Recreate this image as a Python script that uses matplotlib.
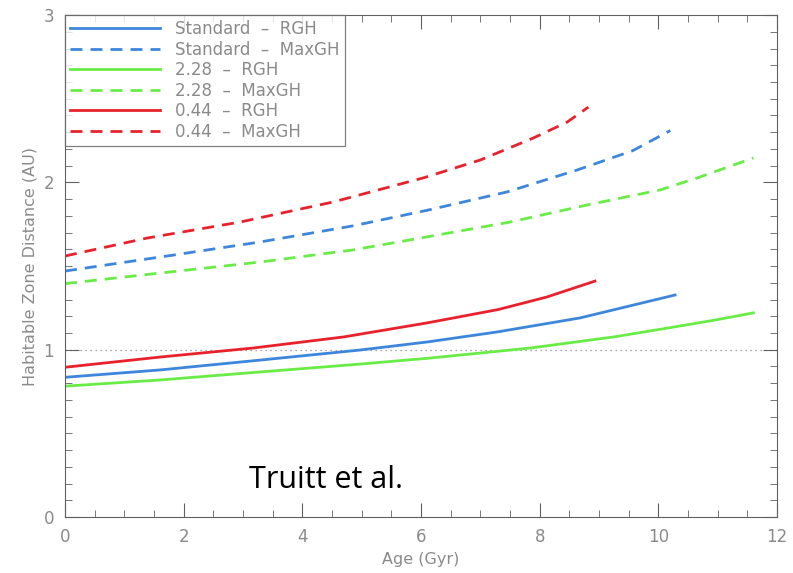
import numpy as np
import matplotlib.pyplot as plt
from matplotlib.ticker import MultipleLocator

# values (Age in Gyr, distance in AU)
age_044_r = [0.0, 1.6, 3.17, 4.69, 6.1, 7.3, 8.12, 8.93]
rgh_044 = [0.895, 0.956, 1.01, 1.076, 1.16, 1.24, 1.315, 1.41]
age_044_m = [0.0, 1.38, 2.95, 4.52, 6.05, 7.0, 7.89, 8.46, 8.82]
max_044 = [1.56, 1.667, 1.763, 1.883, 2.028, 2.134, 2.265, 2.36, 2.45]

age_std_r = [0.0, 1.6, 3.29, 4.97, 6.1, 7.28, 8.68, 9.52, 10.28]
rgh_std = [0.835, 0.879, 0.938, 0.998, 1.046, 1.106, 1.19, 1.262, 1.327]
age_std_m = [0.0, 1.72, 3.29, 4.85, 6.1, 7.45, 8.63, 9.57, 10.2]
max_std = [1.47, 1.56, 1.644, 1.74, 1.833, 1.943, 2.074, 2.19, 2.31]

age_228_r = [0.0, 1.6, 3.29, 4.97, 6.15, 7.84, 9.24, 10.08, 10.92, 11.6]
rgh_228 = [0.782, 0.819, 0.867, 0.914, 0.95, 1.01, 1.076, 1.125, 1.175, 1.22]
age_228_m = [0.0, 1.6, 3.29, 4.85, 6.0, 7.5, 8.8, 10.03, 10.65, 11.6]
max_228 = [1.395, 1.458, 1.524, 1.596, 1.668, 1.763, 1.865, 1.955, 2.026, 2.146]

blue = "#3c86dc"
green = "#6aec46"
red = "#e8222c"
grey = "#606060"
label_grey = "#8a8a8a"
dash = (0, (4.3, 2.9))

fig = plt.figure(figsize=(7.93, 5.73), dpi=100)
ax = fig.add_axes([0.082, 0.0977, 0.898, 0.876])

ax.axhline(1.0, color="#888888", linestyle=(0, (1, 3)), linewidth=0.9, zorder=1)

ax.plot(age_std_r, rgh_std, color=blue, lw=2, label="Standard  \u2013  RGH")
ax.plot(age_std_m, max_std, color=blue, lw=2, ls=dash, label="Standard  \u2013  MaxGH")
ax.plot(age_228_r, rgh_228, color=green, lw=2, label="2.28  \u2013  RGH")
ax.plot(age_228_m, max_228, color=green, lw=2, ls=dash, label="2.28  \u2013  MaxGH")
ax.plot(age_044_r, rgh_044, color=red, lw=2, label="0.44  \u2013  RGH")
ax.plot(age_044_m, max_044, color=red, lw=2, ls=dash, label="0.44  \u2013  MaxGH")

ax.set_xlim(0, 12)
ax.set_ylim(0, 3)
ax.xaxis.set_major_locator(MultipleLocator(2))
ax.xaxis.set_minor_locator(MultipleLocator(0.5))
ax.yaxis.set_major_locator(MultipleLocator(1))
ax.yaxis.set_minor_locator(MultipleLocator(0.1))
ax.tick_params(which="both", direction="in", top=True, right=True,
               colors=grey, labelcolor=label_grey, labelsize=12)
ax.tick_params(which="major", length=10, pad=8)
ax.tick_params(which="minor", length=5)
for s in ax.spines.values():
    s.set_color(grey)

ax.set_xlabel("Age (Gyr)", color=label_grey, fontsize=11.5)
ax.set_ylabel("Habitable Zone Distance (AU)", color=label_grey, fontsize=11.5)

leg = ax.legend(loc="upper left", bbox_to_anchor=(0, 1), borderaxespad=0,
                fancybox=False, fontsize=12, handlelength=5.4, handletextpad=0.9,
                labelspacing=0.15, borderpad=0.3)
leg.get_frame().set_edgecolor(grey)
leg.get_frame().set_linewidth(0.9)
for t in leg.get_texts():
    t.set_color(label_grey)

ax.text(0.259, 0.058, "Truitt et al.", transform=ax.transAxes,
        fontsize=22, family="Open Sans", color="black")

fig.savefig("out.png", dpi=100)
